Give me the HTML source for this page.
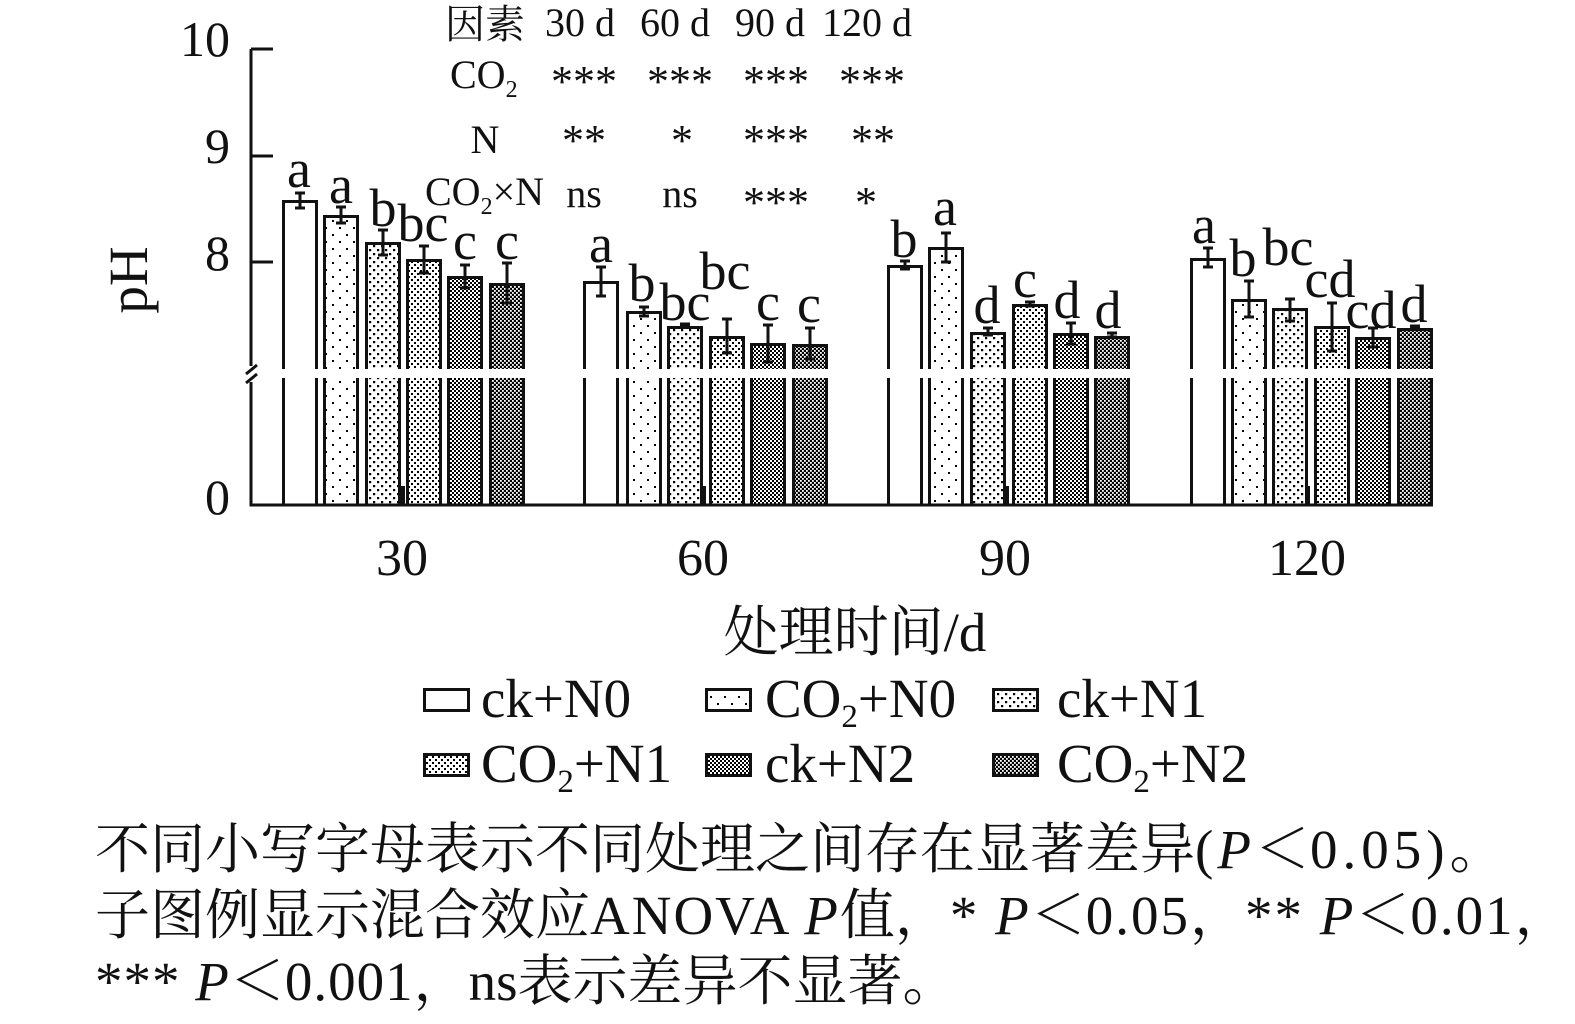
<!DOCTYPE html>
<html>
<head>
<meta charset="utf-8">
<style>
html,body{margin:0;padding:0;background:#fff;}
svg{display:block;}
text{font-family:"Liberation Serif","Noto Serif CJK SC",serif;fill:#111;}
</style>
</head>
<body>
<svg width="1575" height="1024" viewBox="0 0 1575 1024" xmlns="http://www.w3.org/2000/svg">
<defs>
  <pattern id="p2" patternUnits="userSpaceOnUse" width="14" height="14">
    <rect width="14" height="14" fill="#fff"/>
    <rect x="3" y="3" width="2" height="2" fill="#000"/>
    <rect x="10" y="10" width="2" height="2" fill="#000"/>
  </pattern>
  <pattern id="p3" patternUnits="userSpaceOnUse" width="8" height="8">
    <rect width="8" height="8" fill="#fff"/>
    <rect x="1" y="1" width="2.2" height="2.2" fill="#000"/>
    <rect x="5" y="5" width="2.2" height="2.2" fill="#000"/>
  </pattern>
  <pattern id="p4" patternUnits="userSpaceOnUse" width="6" height="6">
    <rect width="6" height="6" fill="#fff"/>
    <rect x="0" y="0" width="2" height="2" fill="#000"/>
    <rect x="3" y="3" width="2" height="2" fill="#000"/>
  </pattern>
  <pattern id="p5" patternUnits="userSpaceOnUse" width="4" height="4">
    <rect width="4" height="4" fill="#fff"/>
    <rect x="0" y="0" width="2" height="2" fill="#000"/>
    <rect x="2" y="2" width="2" height="2" fill="#000"/>
  </pattern>
  <pattern id="p6" patternUnits="userSpaceOnUse" width="4" height="4">
    <rect width="4" height="4" fill="#000"/>
    <rect x="0" y="0" width="1.8" height="1.8" fill="#fff"/>
    <rect x="2" y="2" width="1.8" height="1.8" fill="#fff"/>
  </pattern>
</defs>

<!-- significance table -->
<g font-size="40">
  <text x="445" y="38">因素</text>
  <text x="545" y="36">30 d</text>
  <text x="640" y="36">60 d</text>
  <text x="735" y="36">90 d</text>
  <text x="822" y="36">120 d</text>

  <text x="450" y="88">CO<tspan font-size="24" dy="9">2</tspan></text>
  <text x="485" y="153" text-anchor="middle">N</text>
  <g text-anchor="middle">
    <text x="584" y="207">ns</text>
    <text x="680" y="207">ns</text>
  </g>
  <text x="425" y="205">CO<tspan font-size="24" dy="9">2</tspan><tspan dy="-9">×N</tspan></text>
</g>
<g font-size="44" text-anchor="middle">
  <text x="584" y="96">***</text>
  <text x="680" y="96">***</text>
  <text x="776" y="96">***</text>
  <text x="872" y="96">***</text>

  <text x="584" y="155">**</text>
  <text x="682" y="155">*</text>
  <text x="776" y="155">***</text>
  <text x="873" y="155">**</text>

  <text x="776" y="217">***</text>
  <text x="866" y="217">*</text>
</g>

<!-- bars -->
<g stroke="#111" stroke-width="3">
  <rect x="283.5" y="201.5" width="33" height="303.5" fill="#fff"/>
  <rect x="324.5" y="216.5" width="33" height="288.5" fill="url(#p2)"/>
  <rect x="366.5" y="243.5" width="33" height="261.5" fill="url(#p3)"/>
  <rect x="407.5" y="260.5" width="33" height="244.5" fill="url(#p4)"/>
  <rect x="448.5" y="277.5" width="33" height="227.5" fill="url(#p5)"/>
  <rect x="490.5" y="284.5" width="33" height="220.5" fill="url(#p6)"/>

  <rect x="584.5" y="282.5" width="33" height="222.5" fill="#fff"/>
  <rect x="627.5" y="312.5" width="33" height="192.5" fill="url(#p2)"/>
  <rect x="668.5" y="327.5" width="33" height="177.5" fill="url(#p3)"/>
  <rect x="710.5" y="337.5" width="33" height="167.5" fill="url(#p4)"/>
  <rect x="751.5" y="344.5" width="33" height="160.5" fill="url(#p5)"/>
  <rect x="793.5" y="345.5" width="33" height="159.5" fill="url(#p6)"/>

  <rect x="888.5" y="266.5" width="33" height="238.5" fill="#fff"/>
  <rect x="929.5" y="248.5" width="33" height="256.5" fill="url(#p2)"/>
  <rect x="971.5" y="333.5" width="33" height="171.5" fill="url(#p3)"/>
  <rect x="1013.5" y="305.5" width="33" height="199.5" fill="url(#p4)"/>
  <rect x="1054.5" y="334.5" width="33" height="170.5" fill="url(#p5)"/>
  <rect x="1095.5" y="337.5" width="33" height="167.5" fill="url(#p6)"/>

  <rect x="1191.5" y="259.5" width="33" height="245.5" fill="#fff"/>
  <rect x="1232.5" y="300.5" width="33" height="204.5" fill="url(#p2)"/>
  <rect x="1273.5" y="309.5" width="33" height="195.5" fill="url(#p3)"/>
  <rect x="1315.5" y="327.5" width="33" height="177.5" fill="url(#p4)"/>
  <rect x="1356.5" y="338.5" width="33" height="166.5" fill="url(#p5)"/>
  <rect x="1398.5" y="329.5" width="33" height="175.5" fill="url(#p6)"/>
</g>

<!-- error bars -->
<g stroke="#111" stroke-width="3" fill="none">
  <path d="M300 193V208M295 193H305M295 208H305"/>
  <path d="M341 207V223M336 207H346M336 223H346"/>
  <path d="M383 230V255M378 230H388M378 255H388"/>
  <path d="M424 246V273M419 246H429M419 273H429"/>
  <path d="M465 265V288M460 265H470M460 288H470"/>
  <path d="M507 263V303M502 263H512M502 303H512"/>

  <path d="M601 267V296M596 267H606M596 296H606"/>
  <path d="M644 307V316M639 307H649M639 316H649"/>
  <path d="M685 324V327M680 324H690M680 327H690"/>
  <path d="M727 319V353M722 319H732M722 353H732"/>
  <path d="M768 325V362M763 325H773M763 362H773"/>
  <path d="M810 328V359M805 328H815M805 359H815"/>

  <path d="M905 261V269M900 261H910M900 269H910"/>
  <path d="M946 233V262M941 233H951M941 262H951"/>
  <path d="M988 328V335M983 328H993M983 335H993"/>
  <path d="M1030 302V306M1025 302H1035M1025 306H1035"/>
  <path d="M1071 323V344M1066 323H1076M1066 344H1076"/>
  <path d="M1112 333V337M1107 333H1117M1107 337H1117"/>

  <path d="M1208 248V267M1203 248H1213M1203 267H1213"/>
  <path d="M1249 281V317M1244 281H1254M1244 317H1254"/>
  <path d="M1290 299V321M1285 299H1295M1285 321H1295"/>
  <path d="M1332 303V351M1327 303H1337M1327 351H1337"/>
  <path d="M1373 328V347M1368 328H1378M1368 347H1378"/>
  <path d="M1415 326V329M1410 326H1420M1410 329H1420"/>
</g>

<!-- break gap -->
<rect x="260" y="369" width="1180" height="9" fill="#fff"/>

<!-- axes -->
<g stroke="#111" stroke-width="3" fill="none">
  <path d="M251 49V366M251 382V505"/>
  <path d="M249.5 505H1432"/>
  <path d="M251 49H273M251 156H273M251 262H273"/>
  <path d="M246 374L257 365M246 383L257 374"/>
</g>
<g fill="#111">
  <rect x="400" y="486" width="5" height="19"/>
  <rect x="701" y="486" width="5" height="19"/>
  <rect x="1004" y="486" width="5" height="19"/>
  <rect x="1305" y="486" width="5" height="19"/>
</g>

<!-- letters -->
<g font-size="54" text-anchor="middle">
  <text x="299" y="187">a</text>
  <text x="341" y="203">a</text>
  <text x="383" y="226">b</text>
  <text x="423" y="241">bc</text>
  <text x="465" y="259">c</text>
  <text x="507" y="259">c</text>

  <text x="601" y="262">a</text>
  <text x="642" y="301">b</text>
  <text x="685" y="320">bc</text>
  <text x="725" y="289">bc</text>
  <text x="768" y="320">c</text>
  <text x="809" y="322">c</text>

  <text x="904" y="257">b</text>
  <text x="945" y="225">a</text>
  <text x="987" y="323">d</text>
  <text x="1025" y="297">c</text>
  <text x="1067" y="318">d</text>
  <text x="1108" y="328">d</text>

  <text x="1204" y="243">a</text>
  <text x="1243" y="276">b</text>
  <text x="1288" y="265">bc</text>
  <text x="1330" y="297">cd</text>
  <text x="1371" y="328">cd</text>
  <text x="1414" y="322">d</text>
</g>

<!-- tick labels -->
<g font-size="50" text-anchor="end">
  <text x="230" y="56">10</text>
  <text x="230" y="163">9</text>
  <text x="230" y="270">8</text>
  <text x="230" y="514">0</text>
</g>
<g font-size="52" text-anchor="middle">
  <text x="402" y="575">30</text>
  <text x="703" y="575">60</text>
  <text x="1005" y="575">90</text>
  <text x="1307" y="575">120</text>
</g>
<text x="855" y="651" font-size="55" text-anchor="middle">处理时间/d</text>
<text transform="translate(147,280) rotate(-90)" font-size="55" text-anchor="middle">pH</text>

<!-- legend -->
<g stroke="#111" stroke-width="3">
  <rect x="424.5" y="689.5" width="44" height="21" fill="#fff"/>
  <rect x="706.5" y="689.5" width="44" height="21" fill="url(#p2)"/>
  <rect x="993.5" y="689.5" width="44" height="21" fill="url(#p3)"/>
  <rect x="424.5" y="754.5" width="44" height="21" fill="url(#p4)"/>
  <rect x="706.5" y="754.5" width="44" height="21" fill="url(#p5)"/>
  <rect x="993.5" y="754.5" width="44" height="21" fill="url(#p6)"/>
</g>
<g font-size="55">
  <text x="481" y="717">ck+N0</text>
  <text x="765" y="717">CO<tspan font-size="33" dy="10">2</tspan><tspan dy="-10">+N0</tspan></text>
  <text x="1057" y="717">ck+N1</text>
  <text x="481" y="782">CO<tspan font-size="33" dy="10">2</tspan><tspan dy="-10">+N1</tspan></text>
  <text x="765" y="782">ck+N2</text>
  <text x="1057" y="782">CO<tspan font-size="33" dy="10">2</tspan><tspan dy="-10">+N2</tspan></text>
</g>

<!-- caption -->
<g font-size="55">
  <text x="95" y="868">不同小写字母表示不同处理之间存在显著差异<tspan letter-spacing="4">(<tspan font-style="italic">P</tspan></tspan>＜<tspan letter-spacing="5">0.05)</tspan>。</text>
  <text x="95" y="934">子图例显示混合效应<tspan letter-spacing="2">ANOVA <tspan font-style="italic">P</tspan></tspan>值，<tspan letter-spacing="2">* <tspan font-style="italic">P</tspan></tspan>＜<tspan letter-spacing="2">0.05</tspan>，<tspan letter-spacing="2">** <tspan font-style="italic">P</tspan></tspan>＜<tspan letter-spacing="2">0.01</tspan>，</text>
  <text x="95" y="1000"><tspan letter-spacing="1">*** <tspan font-style="italic">P</tspan></tspan>＜<tspan letter-spacing="1">0.001</tspan>，ns表示差异不显著。</text>
</g>
</svg>
</body>
</html>
